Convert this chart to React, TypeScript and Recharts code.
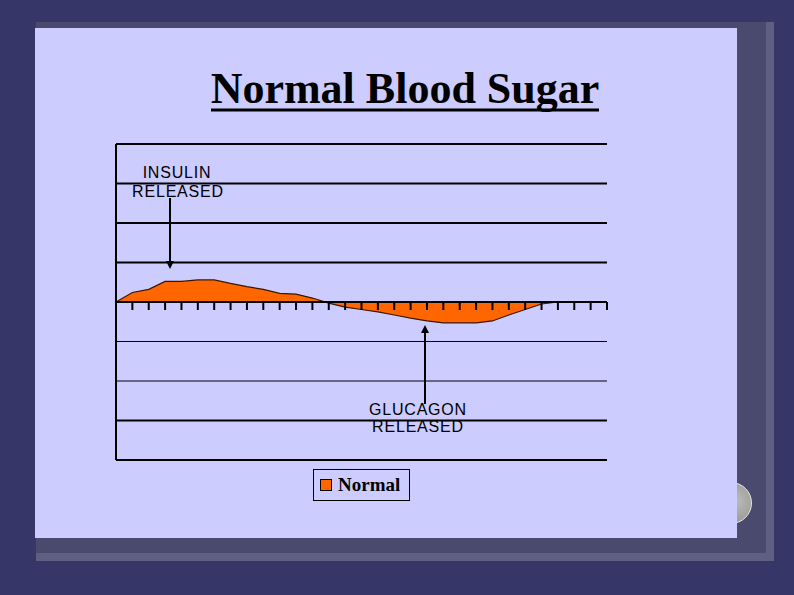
import React from 'react';
import { AreaChart, Area, XAxis, YAxis, ReferenceLine, ReferenceDot, Legend } from 'recharts';

// ---- data ----
const timePoints = [0, 1, 2, 3, 4, 5, 6, 7, 8, 9, 10, 11, 12, 13, 14, 15, 16, 17, 18, 19, 20, 21, 22, 23, 24, 25, 26, 27, 28, 29, 30];
const normalLevel = [0, 0.24, 0.32, 0.52, 0.52, 0.56, 0.56, 0.47, 0.39, 0.32, 0.22, 0.2, 0.1, -0.03, -0.13, -0.19, -0.25, -0.33, -0.41, -0.48, -0.53, -0.53, -0.53, -0.48, -0.33, -0.19, -0.05, 0, 0, 0, 0];
const gridLevels = [-4, -3, -2, -1, 0, 1, 2, 3, 4];
const thinGridLevels = [-1, -2];
const seriesName = 'Normal';
const chartTitle = 'Normal Blood Sugar';
const insulinLabel = ['INSULIN', 'RELEASED'];
const glucagonLabel = ['GLUCAGON', 'RELEASED'];

const data = timePoints.map((t, i) => ({ t, [seriesName]: normalLevel[i] }));

const ORANGE = '#FF6600';
const PANEL = '#CCCCFF';

const LegendBox = (props: any) => {
  const name = props && props.payload && props.payload[0] ? props.payload[0].value : seriesName;
  return (
    <div
      style={{
        width: 95,
        height: 30,
        border: '1px solid #000',
        background: PANEL,
        display: 'flex',
        alignItems: 'center',
      }}
    >
      <span style={{ display: 'inline-block', width: 10, height: 10, background: ORANGE, border: '1px solid #000', marginLeft: 6 }} />
      <span
        style={{
          fontFamily: "'Liberation Serif', 'Times New Roman', serif",
          fontWeight: 'bold',
          fontSize: 19,
          marginLeft: 6,
          color: '#000',
        }}
      >
        {name}
      </span>
    </div>
  );
};

const TickMark = (props: any) => {
  const { cx, cy } = props;
  if (cx == null || cy == null) return <g />;
  return <line x1={cx} y1={cy} x2={cx} y2={cy + 8} stroke="#000" strokeWidth={2} />;
};

export default function App() {
  const labelFont = "'Liberation Sans', Arial, sans-serif";
  return (
    <div style={{ position: 'absolute', left: 0, top: 0, width: 794, height: 595, background: '#363668', overflow: 'hidden' }}>
      {/* shadow frame */}
      <div style={{ position: 'absolute', left: 36, top: 22, width: 730, height: 531, background: '#4A4A6E' }} />
      <div style={{ position: 'absolute', left: 766, top: 22, width: 8, height: 539, background: '#5F5F82' }} />
      <div style={{ position: 'absolute', left: 36, top: 553, width: 738, height: 8, background: '#5F5F82' }} />
      {/* round button peeking out */}
      <div
        style={{
          position: 'absolute',
          left: 710,
          top: 482,
          width: 40,
          height: 40,
          borderRadius: '50%',
          background: 'radial-gradient(circle at 60% 45%, #BDBDB8 0%, #9A9A96 70%, #80807C 100%)',
          border: '1px solid #E6E6EE',
        }}
      />
      {/* slide panel */}
      <div style={{ position: 'absolute', left: 35, top: 28, width: 702, height: 510, background: PANEL }} />

      <div style={{ position: 'absolute', left: 0, top: 0 }}>
        <AreaChart width={794} height={595} data={data} margin={{ top: 144, right: 187, bottom: 135, left: 116 }}>
          <XAxis dataKey="t" type="category" hide />
          <YAxis type="number" domain={[-4, 4]} hide allowDataOverflow />
          {gridLevels.map((g) => (
            <ReferenceLine
              key={'g' + g}
              y={g}
              stroke="#000"
              strokeWidth={thinGridLevels.includes(g) ? 1 : 2}
            />
          ))}
          <ReferenceLine x={timePoints[0]} stroke="#000" strokeWidth={2} />
          <Area
            type="linear"
            dataKey={seriesName}
            name={seriesName}
            baseValue={0}
            fill={ORANGE}
            fillOpacity={1}
            stroke="#3A1800"
            strokeWidth={1.2}
            dot={false}
            activeDot={false}
            isAnimationActive={false}
          />
          <ReferenceLine y={0} stroke="#000" strokeWidth={2} />
          {timePoints.slice(1).map((t) => (
            <ReferenceDot key={'tk' + t} x={t} y={0} r={0} shape={TickMark} />
          ))}
          <Legend
            layout="horizontal"
            verticalAlign="middle"
            align="center"
            wrapperStyle={{ left: 313, top: 469, width: 97, height: 32 }}
            content={LegendBox}
          />
        </AreaChart>
      </div>

      {/* title & annotations */}
      <svg width={794} height={595} style={{ position: 'absolute', left: 0, top: 0, pointerEvents: 'none' }}>
        <text
          x={405}
          y={103}
          textAnchor="middle"
          fontFamily="'Liberation Serif', 'Times New Roman', serif"
          fontWeight="bold"
          fontSize={44}
          fill="#000"
        >
          {chartTitle}
        </text>
        <rect x={211} y={108.5} width={388} height={3} fill="#000" />

        <text x={177} y={178} textAnchor="middle" fontFamily={labelFont} fontSize={16} letterSpacing={0.8} fill="#000">
          {insulinLabel[0]}
        </text>
        <text x={178} y={197} textAnchor="middle" fontFamily={labelFont} fontSize={16} letterSpacing={0.8} fill="#000">
          {insulinLabel[1]}
        </text>
        <line x1={170} y1={198} x2={170} y2={262} stroke="#000" strokeWidth={2} />
        <polygon points="166,261 174,261 170,269" fill="#000" />

        <line x1={425} y1={332} x2={425} y2={404} stroke="#000" strokeWidth={2} />
        <polygon points="421,333 429,333 425,325" fill="#000" />
        <text x={418} y={415} textAnchor="middle" fontFamily={labelFont} fontSize={16} letterSpacing={0.8} fill="#000">
          {glucagonLabel[0]}
        </text>
        <text x={418} y={432} textAnchor="middle" fontFamily={labelFont} fontSize={16} letterSpacing={0.8} fill="#000">
          {glucagonLabel[1]}
        </text>
      </svg>
    </div>
  );
}
